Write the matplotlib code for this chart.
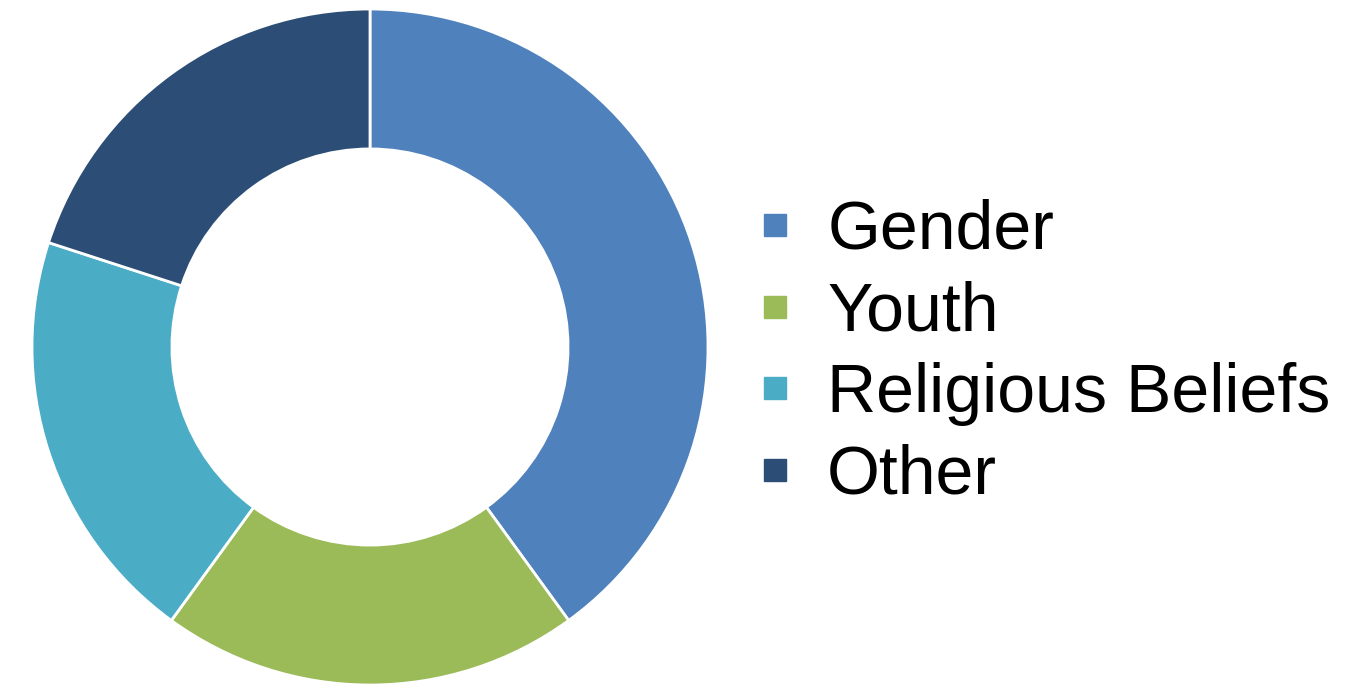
import matplotlib.pyplot as plt
from matplotlib.lines import Line2D

labels = ["Gender", "Youth", "Religious Beliefs", "Other"]
values = [40, 20, 20, 20]
colors = ["#4F81BD", "#9BBB59", "#4BACC6", "#2C4D75"]

plt.rcParams['font.family'] = ['Liberation Sans', 'DejaVu Sans']

fig = plt.figure(figsize=(13.71, 6.86), dpi=100)
W, H = 1371, 686
# pie axes: center (370, 339 from bottom), radius 338 px
ax = fig.add_axes([32 / W, 1 / H, 676 / W, 676 / H])
ax.pie(values, colors=colors, startangle=90, counterclock=False,
       radius=1, wedgeprops=dict(width=0.414, edgecolor="white", linewidth=2))
ax.set_xlim(-1, 1)
ax.set_ylim(-1, 1)
ax.set_aspect("equal")
ax.axis("off")

handles = [Line2D([], [], marker="s", linestyle="", markersize=16.5,
                  markerfacecolor=c, markeredgecolor=c) for c in colors]
fig.legend(handles, labels, loc="center left", bbox_to_anchor=(755 / W, 0.485),
           frameon=False, fontsize=49, handlelength=0.6, handletextpad=0.46,
           labelspacing=0.26, borderpad=0, borderaxespad=0)

fig.savefig("out.png", dpi=100)
